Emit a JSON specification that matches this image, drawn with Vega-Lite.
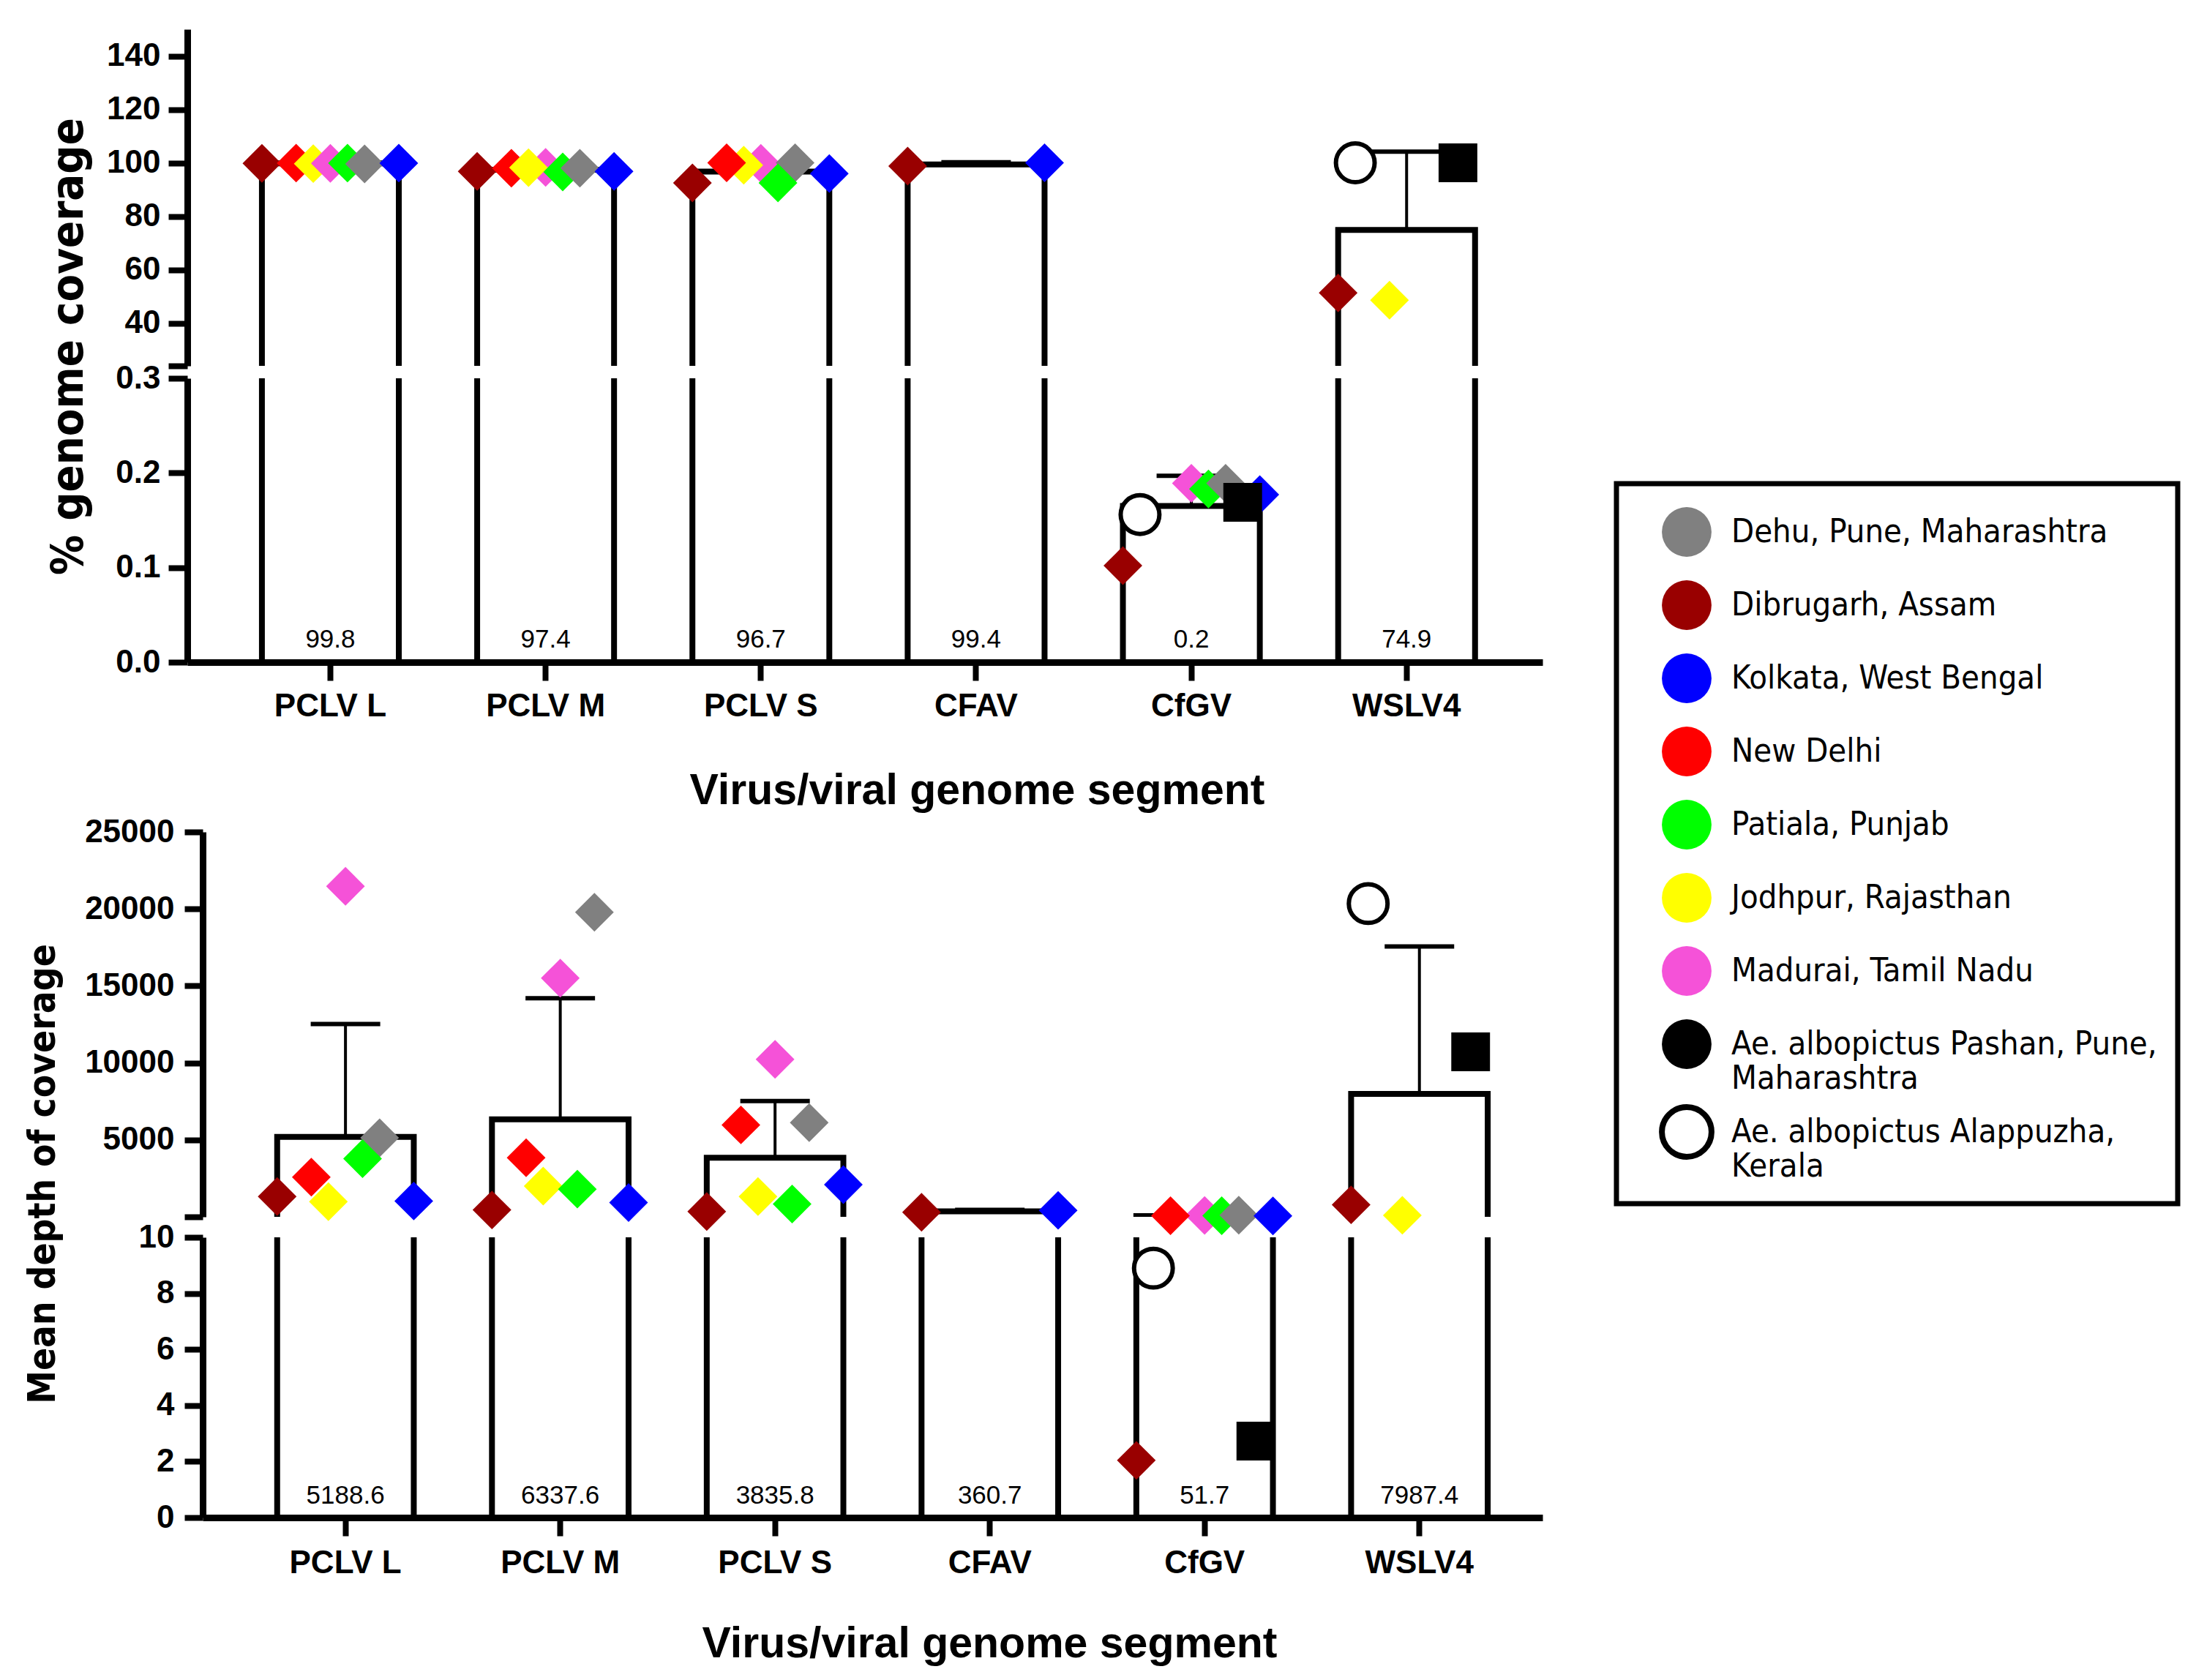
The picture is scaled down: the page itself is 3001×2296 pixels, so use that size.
{
  "$schema": "https://vega.github.io/schema/vega-lite/v6.json",
  "background": "white",
  "padding": {"left": 33, "top": 40, "right": 20, "bottom": 5},
  "datasets": {
    "cov_bars": [
      {"virus": "PCLV L", "mean": 99.8, "upper": 100.1},
      {"virus": "PCLV M", "mean": 97.4, "upper": 98.2},
      {"virus": "PCLV S", "mean": 96.7, "upper": 99.6},
      {"virus": "CFAV", "mean": 99.4, "upper": 100.2},
      {"virus": "CfGV", "mean": 0.165, "upper": 0.197},
      {"virus": "WSLV4", "mean": 74.9, "upper": 104.2}
    ],
    "dep_bars": [
      {"virus": "PCLV L", "mean": 5188.6, "upper": 12520},
      {"virus": "PCLV M", "mean": 6337.6, "upper": 14205},
      {"virus": "PCLV S", "mean": 3835.8, "upper": 7519},
      {"virus": "CFAV", "mean": 360.7, "upper": 446},
      {"virus": "CfGV", "mean": 51.7, "upper": 92},
      {"virus": "WSLV4", "mean": 7987.4, "upper": 17558}
    ],
    "cov_pts": [
      {"virus": "PCLV L", "site": "Dibrugarh, Assam", "value": 99.8},
      {"virus": "PCLV L", "site": "New Delhi", "value": 99.9},
      {"virus": "PCLV L", "site": "Jodhpur, Rajasthan", "value": 99.7},
      {"virus": "PCLV L", "site": "Madurai, Tamil Nadu", "value": 99.8},
      {"virus": "PCLV L", "site": "Patiala, Punjab", "value": 99.9},
      {"virus": "PCLV L", "site": "Dehu, Pune, Maharashtra", "value": 99.6},
      {"virus": "PCLV L", "site": "Kolkata, West Bengal", "value": 99.9},
      {"virus": "PCLV M", "site": "Dibrugarh, Assam", "value": 96.8},
      {"virus": "PCLV M", "site": "Madurai, Tamil Nadu", "value": 98.3},
      {"virus": "PCLV M", "site": "New Delhi", "value": 98.0},
      {"virus": "PCLV M", "site": "Jodhpur, Rajasthan", "value": 98.2},
      {"virus": "PCLV M", "site": "Patiala, Punjab", "value": 96.6},
      {"virus": "PCLV M", "site": "Dehu, Pune, Maharashtra", "value": 98.0},
      {"virus": "PCLV M", "site": "Kolkata, West Bengal", "value": 96.8},
      {"virus": "PCLV S", "site": "Kolkata, West Bengal", "value": 96.0},
      {"virus": "PCLV S", "site": "Madurai, Tamil Nadu", "value": 99.8},
      {"virus": "PCLV S", "site": "Jodhpur, Rajasthan", "value": 99.1},
      {"virus": "PCLV S", "site": "Dehu, Pune, Maharashtra", "value": 100.0},
      {"virus": "PCLV S", "site": "Patiala, Punjab", "value": 92.5},
      {"virus": "PCLV S", "site": "New Delhi", "value": 100.0},
      {"virus": "PCLV S", "site": "Dibrugarh, Assam", "value": 92.5},
      {"virus": "CFAV", "site": "Dibrugarh, Assam", "value": 98.8},
      {"virus": "CFAV", "site": "Kolkata, West Bengal", "value": 100.0},
      {"virus": "CfGV", "site": "Ae. albopictus Alappuzha, Kerala", "value": 0.156},
      {"virus": "CfGV", "site": "Madurai, Tamil Nadu", "value": 0.189},
      {"virus": "CfGV", "site": "Kolkata, West Bengal", "value": 0.177},
      {"virus": "CfGV", "site": "Patiala, Punjab", "value": 0.183},
      {"virus": "CfGV", "site": "Dehu, Pune, Maharashtra", "value": 0.189},
      {"virus": "CfGV", "site": "Dibrugarh, Assam", "value": 0.102},
      {"virus": "CfGV", "site": "Ae. albopictus Pashan, Pune, Maharashtra", "value": 0.169},
      {"virus": "WSLV4", "site": "Ae. albopictus Alappuzha, Kerala", "value": 100.0},
      {"virus": "WSLV4", "site": "Jodhpur, Rajasthan", "value": 48.6},
      {"virus": "WSLV4", "site": "Dibrugarh, Assam", "value": 51.3},
      {"virus": "WSLV4", "site": "Ae. albopictus Pashan, Pune, Maharashtra", "value": 100.0}
    ],
    "dep_pts": [
      {"virus": "PCLV L", "site": "Madurai, Tamil Nadu", "value": 21470},
      {"virus": "PCLV L", "site": "Dehu, Pune, Maharashtra", "value": 5135},
      {"virus": "PCLV L", "site": "Patiala, Punjab", "value": 3775},
      {"virus": "PCLV L", "site": "New Delhi", "value": 2575},
      {"virus": "PCLV L", "site": "Jodhpur, Rajasthan", "value": 988},
      {"virus": "PCLV L", "site": "Kolkata, West Bengal", "value": 1026},
      {"virus": "PCLV L", "site": "Dibrugarh, Assam", "value": 1315},
      {"virus": "PCLV M", "site": "Dehu, Pune, Maharashtra", "value": 19786},
      {"virus": "PCLV M", "site": "Madurai, Tamil Nadu", "value": 15503},
      {"virus": "PCLV M", "site": "New Delhi", "value": 3837},
      {"virus": "PCLV M", "site": "Dibrugarh, Assam", "value": 446},
      {"virus": "PCLV M", "site": "Jodhpur, Rajasthan", "value": 1994},
      {"virus": "PCLV M", "site": "Kolkata, West Bengal", "value": 926},
      {"virus": "PCLV M", "site": "Patiala, Punjab", "value": 1800},
      {"virus": "PCLV S", "site": "Madurai, Tamil Nadu", "value": 10233},
      {"virus": "PCLV S", "site": "New Delhi", "value": 5969},
      {"virus": "PCLV S", "site": "Dehu, Pune, Maharashtra", "value": 6121},
      {"virus": "PCLV S", "site": "Kolkata, West Bengal", "value": 2089},
      {"virus": "PCLV S", "site": "Patiala, Punjab", "value": 831},
      {"virus": "PCLV S", "site": "Dibrugarh, Assam", "value": 347},
      {"virus": "PCLV S", "site": "Jodhpur, Rajasthan", "value": 1315},
      {"virus": "CFAV", "site": "Dibrugarh, Assam", "value": 300},
      {"virus": "CFAV", "site": "Kolkata, West Bengal", "value": 421},
      {"virus": "CfGV", "site": "Ae. albopictus Alappuzha, Kerala", "value": 8.9},
      {"virus": "CfGV", "site": "Madurai, Tamil Nadu", "value": 90},
      {"virus": "CfGV", "site": "Patiala, Punjab", "value": 70},
      {"virus": "CfGV", "site": "Dehu, Pune, Maharashtra", "value": 110},
      {"virus": "CfGV", "site": "Kolkata, West Bengal", "value": 60},
      {"virus": "CfGV", "site": "New Delhi", "value": 70},
      {"virus": "CfGV", "site": "Dibrugarh, Assam", "value": 2.04},
      {"virus": "CfGV", "site": "Ae. albopictus Pashan, Pune, Maharashtra", "value": 2.73},
      {"virus": "WSLV4", "site": "Ae. albopictus Alappuzha, Kerala", "value": 20347},
      {"virus": "WSLV4", "site": "Jodhpur, Rajasthan", "value": 100},
      {"virus": "WSLV4", "site": "Dibrugarh, Assam", "value": 779},
      {"virus": "WSLV4", "site": "Ae. albopictus Pashan, Pune, Maharashtra", "value": 10717}
    ]
  },
  "spacing": 4,
  "resolve": {"scale": {"x": "independent", "y": "independent", "xOffset": "independent"}},
  "vconcat": [
    {
      "spacing": 17,
      "bounds": "flush",
      "resolve": {"scale": {"x": "independent", "y": "independent", "xOffset": "independent"}},
      "vconcat": [
        {
          "width": 1831, "height": 460,
          "resolve": {"scale": {"xOffset": "independent"}},
          "layer": [
            {"data": {"name": "cov_bars"},
             "mark": {"type": "bar", "clip": true, "fill": "white", "stroke": "black", "strokeWidth": 8},
             "encoding": {
               "x": {"field": "virus", "type": "nominal", "scale": {"domain": ["PCLV L","PCLV M","PCLV S","CFAV","CfGV","WSLV4"], "range": [-21, 1831], "paddingInner": 0.364, "paddingOuter": 0.33, "align": 0.525}, "axis": null},
               "y": {"field": "mean", "type": "quantitative", "scale": {"domain": [24, 150], "nice": false, "zero": false},
                     "axis": {"title": "% genome coverage", "offset": 21, "values": [24,40,60,80,100,120,140], "labelExpr": "datum.value == 24 ? '' : datum.label", "tickSize": 26, "labelPadding": 11, "titleFont": "DejaVu Sans Condensed", "titleFontWeight": "bold", "titleFontSize": 61, "titleAngle": 270, "titleX": -144, "titleY": 433, "titleAlign": "center", "titleBaseline": "alphabetic"}},
               "y2": {"datum": -100}
             }},
            {"data": {"name": "cov_bars"},
             "mark": {"type": "rule", "clip": true, "color": "black", "strokeWidth": 4},
             "encoding": {
               "x": {"field": "virus", "type": "nominal", "axis": null},
               "y": {"field": "mean", "type": "quantitative"},
               "y2": {"field": "upper"}
             }},
            {"data": {"name": "cov_bars"},
             "mark": {"type": "tick", "clip": true, "color": "black", "thickness": 6, "size": 95, "opacity": 1},
             "encoding": {
               "x": {"field": "virus", "type": "nominal", "axis": null},
               "y": {"field": "upper", "type": "quantitative"}
             }},
            {"data": {"name": "cov_pts"},
             "transform": [{"filter": "datum.value >= 0.3"}],
             "mark": {"type": "point", "filled": true, "opacity": 1, "size": 2800, "strokeWidth": 6},
             "encoding": {
               "x": {"field": "virus", "type": "nominal", "axis": null},
               "xOffset": {"field": "site", "type": "nominal", "scale": {"domain": ["Dibrugarh, Assam","Ae. albopictus Alappuzha, Kerala","New Delhi","Jodhpur, Rajasthan","Madurai, Tamil Nadu","Patiala, Punjab","Dehu, Pune, Maharashtra","Ae. albopictus Pashan, Pune, Maharashtra","Kolkata, West Bengal"], "paddingInner": 0, "paddingOuter": 0}},
               "y": {"field": "value", "type": "quantitative"},
               "shape": {"field": "site", "type": "nominal", "scale": {"domain": ["Dibrugarh, Assam","Ae. albopictus Alappuzha, Kerala","New Delhi","Jodhpur, Rajasthan","Madurai, Tamil Nadu","Patiala, Punjab","Dehu, Pune, Maharashtra","Ae. albopictus Pashan, Pune, Maharashtra","Kolkata, West Bengal"], "range": ["diamond","circle","diamond","diamond","diamond","diamond","diamond","square","diamond"]}, "legend": null},
               "fill": {"field": "site", "type": "nominal", "scale": {"domain": ["Dehu, Pune, Maharashtra","Dibrugarh, Assam","Kolkata, West Bengal","New Delhi","Patiala, Punjab","Jodhpur, Rajasthan","Madurai, Tamil Nadu","Ae. albopictus Pashan, Pune, Maharashtra","Ae. albopictus Alappuzha, Kerala"], "range": ["#808080","#990000","#0000FF","#FF0000","#00FF00","#FFFF00","#F552D8","#000000","#FFFFFF"]},
                        "legend": {"title": null, "orient": "none", "legendX": 1932, "legendY": 621, "direction": "vertical",
                                   "labelExpr": "datum.label == 'Ae. albopictus Pashan, Pune, Maharashtra' ? ['Ae. albopictus Pashan, Pune,', 'Maharashtra'] : datum.label == 'Ae. albopictus Alappuzha, Kerala' ? ['Ae. albopictus Alappuzha,', 'Kerala'] : datum.label"}},
               "stroke": {"field": "site", "type": "nominal", "scale": {"domain": ["Dehu, Pune, Maharashtra","Dibrugarh, Assam","Kolkata, West Bengal","New Delhi","Patiala, Punjab","Jodhpur, Rajasthan","Madurai, Tamil Nadu","Ae. albopictus Pashan, Pune, Maharashtra","Ae. albopictus Alappuzha, Kerala"], "range": ["transparent","transparent","transparent","transparent","transparent","transparent","transparent","transparent","#000000"]},
                        "legend": {"title": null, "orient": "none", "legendX": 1932, "legendY": 621, "direction": "vertical",
                                   "labelExpr": "datum.label == 'Ae. albopictus Pashan, Pune, Maharashtra' ? ['Ae. albopictus Pashan, Pune,', 'Maharashtra'] : datum.label == 'Ae. albopictus Alappuzha, Kerala' ? ['Ae. albopictus Alappuzha,', 'Kerala'] : datum.label"}}
             }}
          ]
        },
        {
          "width": 1831, "height": 388,
          "resolve": {"scale": {"xOffset": "independent"}},
          "layer": [
            {"data": {"name": "cov_bars"},
             "mark": {"type": "bar", "clip": true, "fill": "white", "stroke": "black", "strokeWidth": 8},
             "encoding": {
               "x": {"field": "virus", "type": "nominal", "scale": {"domain": ["PCLV L","PCLV M","PCLV S","CFAV","CfGV","WSLV4"], "range": [-21, 1831], "paddingInner": 0.364, "paddingOuter": 0.33, "align": 0.525},
                     "axis": {"title": "Virus/viral genome segment", "titleFont": "Liberation Sans", "titleFontSize": 59, "titleFontWeight": "bold", "titleX": 1058, "titleY": 193.5, "titleAlign": "center", "titleBaseline": "alphabetic", "tickSize": 25, "labelPadding": 48, "labelBaseline": "alphabetic", "labelAngle": 0}},
               "y": {"field": "mean", "type": "quantitative", "scale": {"domain": [0, 0.3], "nice": false, "zero": false},
                     "axis": {"title": null, "offset": 21, "values": [0, 0.1, 0.2, 0.3], "format": ".1f", "tickSize": 26, "labelPadding": 11}},
               "y2": {"datum": 0}
             }},
            {"data": {"name": "cov_bars"},
             "mark": {"type": "rule", "clip": true, "color": "black", "strokeWidth": 4},
             "encoding": {
               "x": {"field": "virus", "type": "nominal"},
               "y": {"field": "mean", "type": "quantitative"},
               "y2": {"field": "upper"}
             }},
            {"data": {"name": "cov_bars"},
             "mark": {"type": "tick", "clip": true, "color": "black", "thickness": 6, "size": 95, "opacity": 1},
             "encoding": {
               "x": {"field": "virus", "type": "nominal"},
               "y": {"field": "upper", "type": "quantitative"}
             }},
            {"data": {"name": "cov_bars"},
             "mark": {"type": "text", "font": "Liberation Sans", "fontSize": 35, "baseline": "alphabetic", "dy": -20, "color": "black"},
             "encoding": {
               "x": {"field": "virus", "type": "nominal"},
               "y": {"datum": 0},
               "text": {"field": "mean", "type": "quantitative", "format": ".1f"}
             }},
            {"data": {"name": "cov_pts"},
             "transform": [{"filter": "datum.value < 0.3"}],
             "mark": {"type": "point", "filled": true, "opacity": 1, "size": 2800, "strokeWidth": 6},
             "encoding": {
               "x": {"field": "virus", "type": "nominal"},
               "xOffset": {"field": "site", "type": "nominal", "scale": {"domain": ["Dibrugarh, Assam","Ae. albopictus Alappuzha, Kerala","New Delhi","Jodhpur, Rajasthan","Madurai, Tamil Nadu","Patiala, Punjab","Dehu, Pune, Maharashtra","Ae. albopictus Pashan, Pune, Maharashtra","Kolkata, West Bengal"], "paddingInner": 0, "paddingOuter": 0}},
               "y": {"field": "value", "type": "quantitative"},
               "shape": {"field": "site", "type": "nominal", "legend": null},
               "fill": {"field": "site", "type": "nominal"},
               "stroke": {"field": "site", "type": "nominal"}
             }}
          ]
        }
      ]
    },
    {
      "spacing": 28,
      "bounds": "flush",
      "resolve": {"scale": {"x": "independent", "y": "independent", "xOffset": "independent"}},
      "vconcat": [
        {
          "width": 1831, "height": 526,
          "resolve": {"scale": {"xOffset": "independent"}},
          "layer": [
            {"data": {"name": "dep_bars"},
             "mark": {"type": "bar", "clip": true, "fill": "white", "stroke": "black", "strokeWidth": 8},
             "encoding": {
               "x": {"field": "virus", "type": "nominal", "scale": {"domain": ["PCLV L","PCLV M","PCLV S","CFAV","CfGV","WSLV4"], "paddingInner": 0.364, "paddingOuter": 0.301, "align": 0.576}, "axis": null},
               "y": {"field": "mean", "type": "quantitative", "scale": {"domain": [0, 25000], "nice": false, "zero": false},
                     "axis": {"title": "Mean depth of coverage", "values": [0,5000,10000,15000,20000,25000], "format": "d", "labelExpr": "datum.value == 0 ? '' : datum.label", "tickSize": 25, "labelPadding": 14, "titleFont": "DejaVu Sans Condensed", "titleFontWeight": "bold", "titleFontSize": 51, "titleAngle": 270, "titleX": -203, "titleY": 467, "titleAlign": "center", "titleBaseline": "alphabetic"}},
               "y2": {"datum": -2000}
             }},
            {"data": {"name": "dep_bars"},
             "mark": {"type": "rule", "clip": true, "color": "black", "strokeWidth": 4},
             "encoding": {
               "x": {"field": "virus", "type": "nominal", "axis": null},
               "y": {"field": "mean", "type": "quantitative"},
               "y2": {"field": "upper"}
             }},
            {"data": {"name": "dep_bars"},
             "mark": {"type": "tick", "clip": true, "color": "black", "thickness": 6, "size": 95, "opacity": 1},
             "encoding": {
               "x": {"field": "virus", "type": "nominal", "axis": null},
               "y": {"field": "upper", "type": "quantitative"}
             }},
            {"data": {"name": "dep_pts"},
             "transform": [{"filter": "datum.value >= 10"}],
             "mark": {"type": "point", "filled": true, "opacity": 1, "size": 2800, "strokeWidth": 6},
             "encoding": {
               "x": {"field": "virus", "type": "nominal", "axis": null},
               "xOffset": {"field": "site", "type": "nominal", "scale": {"domain": ["Dibrugarh, Assam","Ae. albopictus Alappuzha, Kerala","New Delhi","Jodhpur, Rajasthan","Madurai, Tamil Nadu","Patiala, Punjab","Dehu, Pune, Maharashtra","Ae. albopictus Pashan, Pune, Maharashtra","Kolkata, West Bengal"], "paddingInner": 0, "paddingOuter": 0}},
               "y": {"field": "value", "type": "quantitative"},
               "shape": {"field": "site", "type": "nominal", "legend": null},
               "fill": {"field": "site", "type": "nominal"},
               "stroke": {"field": "site", "type": "nominal"}
             }}
          ]
        },
        {
          "width": 1831, "height": 383,
          "resolve": {"scale": {"xOffset": "independent"}},
          "layer": [
            {"data": {"name": "dep_bars"},
             "mark": {"type": "bar", "clip": true, "fill": "white", "stroke": "black", "strokeWidth": 8},
             "encoding": {
               "x": {"field": "virus", "type": "nominal", "scale": {"domain": ["PCLV L","PCLV M","PCLV S","CFAV","CfGV","WSLV4"], "paddingInner": 0.364, "paddingOuter": 0.301, "align": 0.576},
                     "axis": {"title": "Virus/viral genome segment", "titleFont": "Liberation Sans", "titleFontSize": 59, "titleFontWeight": "bold", "titleX": 1075, "titleY": 190, "titleAlign": "center", "titleBaseline": "alphabetic", "tickSize": 25, "labelPadding": 50, "labelBaseline": "alphabetic", "labelAngle": 0}},
               "y": {"field": "mean", "type": "quantitative", "scale": {"domain": [0, 10], "nice": false, "zero": false},
                     "axis": {"title": null, "values": [0,2,4,6,8,10], "tickSize": 25, "labelPadding": 14}},
               "y2": {"datum": 0}
             }},
            {"data": {"name": "dep_bars"},
             "mark": {"type": "rule", "clip": true, "color": "black", "strokeWidth": 4},
             "encoding": {
               "x": {"field": "virus", "type": "nominal"},
               "y": {"field": "mean", "type": "quantitative"},
               "y2": {"field": "upper"}
             }},
            {"data": {"name": "dep_bars"},
             "mark": {"type": "tick", "clip": true, "color": "black", "thickness": 6, "size": 95, "opacity": 1},
             "encoding": {
               "x": {"field": "virus", "type": "nominal"},
               "y": {"field": "upper", "type": "quantitative"}
             }},
            {"data": {"name": "dep_bars"},
             "mark": {"type": "text", "font": "Liberation Sans", "fontSize": 35, "baseline": "alphabetic", "dy": -19, "color": "black"},
             "encoding": {
               "x": {"field": "virus", "type": "nominal"},
               "y": {"datum": 0},
               "text": {"field": "mean", "type": "quantitative", "format": ".1f"}
             }},
            {"data": {"name": "dep_pts"},
             "transform": [{"filter": "datum.value < 10"}],
             "mark": {"type": "point", "filled": true, "opacity": 1, "size": 2800, "strokeWidth": 6},
             "encoding": {
               "x": {"field": "virus", "type": "nominal"},
               "xOffset": {"field": "site", "type": "nominal", "scale": {"domain": ["Dibrugarh, Assam","Ae. albopictus Alappuzha, Kerala","New Delhi","Jodhpur, Rajasthan","Madurai, Tamil Nadu","Patiala, Punjab","Dehu, Pune, Maharashtra","Ae. albopictus Pashan, Pune, Maharashtra","Kolkata, West Bengal"], "paddingInner": 0, "paddingOuter": 0}},
               "y": {"field": "value", "type": "quantitative"},
               "shape": {"field": "site", "type": "nominal", "legend": null},
               "fill": {"field": "site", "type": "nominal"},
               "stroke": {"field": "site", "type": "nominal"}
             }}
          ]
        }
      ]
    }
  ],
  "config": {
    "view": {"stroke": null},
    "axis": {"domainColor": "black", "domainWidth": 9, "tickColor": "black", "tickWidth": 8, "labelColor": "black", "labelFont": "Liberation Sans", "labelFontWeight": "bold", "labelFontSize": 44, "grid": false, "titleColor": "black", "labelFlush": false, "labelOverlap": false},
    "legend": {"padding": 28, "strokeColor": "black", "strokeWidth": 7, "labelFont": "DejaVu Sans Condensed", "labelFontSize": 45, "labelColor": "black", "labelLimit": 900, "labelOffset": 23, "symbolOffset": 30, "symbolSize": 4600, "symbolStrokeWidth": 8, "symbolType": "circle", "rowPadding": 0}
  }
}
